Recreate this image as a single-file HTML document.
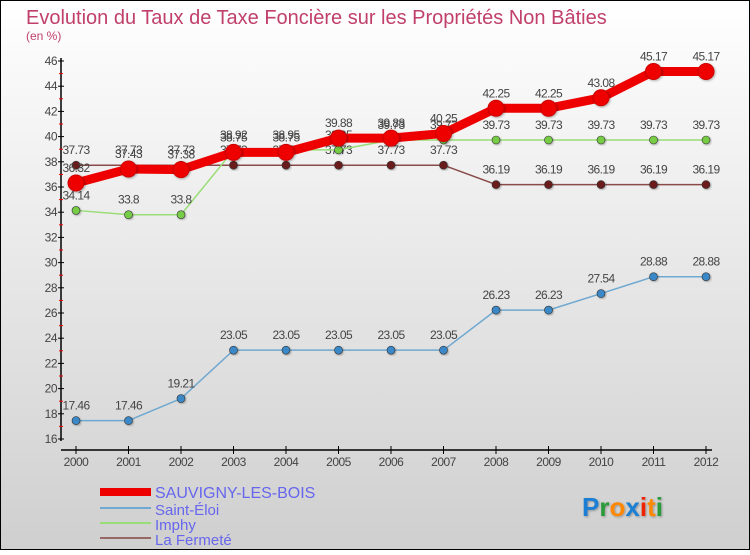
<!DOCTYPE html>
<html><head><meta charset="utf-8"><style>
html,body{margin:0;padding:0}
body{width:750px;height:550px;overflow:hidden;font-family:"Liberation Sans",sans-serif}
</style></head><body>
<svg id="chart" width="750" height="550" xmlns="http://www.w3.org/2000/svg">
<defs>
<linearGradient id="bg" x1="0" y1="0" x2="0" y2="1"><stop offset="0" stop-color="#ffffff"/><stop offset="1" stop-color="#cfcfcf"/></linearGradient>
<filter id="sh" x="-20%" y="-20%" width="140%" height="140%"><feDropShadow dx="1" dy="1" stdDeviation="1" flood-color="#000" flood-opacity="0.3"/></filter>
</defs>
<rect x="0.5" y="0.5" width="749" height="549" fill="url(#bg)" stroke="#000"/>
<text x="26" y="24" font-size="20" fill="#c0406a">Evolution du Taux de Taxe Foncière sur les Propriétés Non Bâties</text>
<text x="26" y="40" font-size="12" fill="#c0406a">(en %)</text>
<g id="axes"></g>
<g id="series"></g>
<g id="legend">
<rect x="100" y="488" width="51" height="8" fill="#ee0000"/>
<text x="155" y="498" font-size="16" fill="#6666ee">SAUVIGNY-LES-BOIS</text>
<rect x="100" y="507" width="51" height="2" fill="#6fa8d0"/>
<text x="155" y="515" font-size="15" fill="#6666ee">Saint-Éloi</text>
<rect x="100" y="522" width="51" height="2" fill="#99dd77"/>
<text x="155" y="530" font-size="15" fill="#6666ee">Imphy</text>
<rect x="100" y="537" width="51" height="2" fill="#996666"/>
<text x="155" y="545" font-size="15" fill="#6666ee">La Fermeté</text>
</g>
<g font-size="26" font-weight="bold" filter="url(#sh)">
<text x="582" y="516"><tspan fill="#1a7fd4">P</tspan><tspan fill="#2a9a3a">r</tspan><tspan fill="#ff8800">o</tspan><tspan fill="#1a7fd4">x</tspan><tspan fill="#ee2200">i</tspan><tspan fill="#ff8800">t</tspan><tspan fill="#2a9a3a">i</tspan></text>
</g>
</svg>
<script>
const years = [2000,2001,2002,2003,2004,2005,2006,2007,2008,2009,2010,2011,2012];
const yTicks = [16,18,20,22,24,26,28,30,32,34,36,38,40,42,44,46];
const sauvigny = [36.32,37.43,37.38,38.75,38.75,39.88,39.88,40.25,42.25,42.25,43.08,45.17,45.17];
const saintEloi = [17.46,17.46,19.21,23.05,23.05,23.05,23.05,23.05,26.23,26.23,27.54,28.88,28.88];
const imphy = [34.14,33.8,33.8,38.92,38.95,38.95,39.73,39.73,39.73,39.73,39.73,39.73,39.73];
const laFermete = [37.73,37.73,37.73,37.73,37.73,37.73,37.73,37.73,36.19,36.19,36.19,36.19,36.19];

const NS="http://www.w3.org/2000/svg";
const xs = i => 76 + i*52.5;
const ys = v => 61 + (46 - v)*12.6;
function mk(tag, attrs, parent){const e=document.createElementNS(NS,tag);for(const k in attrs)e.setAttribute(k,attrs[k]);parent.appendChild(e);return e;}
const axes=document.getElementById('axes'), ser=document.getElementById('series');

const ya=mk('line',{x1:61,y1:58,x2:61,y2:441,stroke:'#000','stroke-width':1.5},axes);


const xa=mk('line',{x1:61,y1:450,x2:712,y2:450,stroke:'#000','stroke-width':1.5},axes);


yTicks.forEach(v=>{
  const t=mk('line',{x1:58,y1:ys(v),x2:64,y2:ys(v),stroke:'#000'},axes);
  
  
  const l=mk('text',{x:57,y:ys(v)+4,'font-size':12,fill:'#444','text-anchor':'end','letter-spacing':'-0.5'},axes);
  l.textContent=v;
  
  
  if(v<46){const m=mk('line',{x1:59,y1:ys(v+1),x2:63,y2:ys(v+1),stroke:'#e00'},axes);
  
  }
});
years.forEach((y,i)=>{
  const t=mk('line',{x1:xs(i),y1:446,x2:xs(i),y2:454,stroke:'#000'},axes);
  
  
  const l=mk('text',{x:xs(i),y:466,'font-size':12,fill:'#444','text-anchor':'middle','letter-spacing':'-0.5'},axes);
  l.textContent=y;
  
  
});

function series(vals,name,color,w,r,dot){
  const g=mk('g',{},ser);
  
  
  const p=mk('polyline',{points:vals.map((v,i)=>xs(i)+','+ys(v)).join(' '),fill:'none',stroke:color,'stroke-width':w,'stroke-linejoin':'round'},g);
  
  
  vals.forEach((v,i)=>{
    const c=mk('circle',{cx:xs(i),cy:ys(v),r:r,fill:dot,stroke:dot==='#ee0000'?'#cc0000':'#333','stroke-width':dot==='#ee0000'?1:0.6,filter:'url(#sh)'},g);
    
    
    const l=mk('text',{x:xs(i),y:ys(v)-11,'font-size':12,fill:'#444','text-anchor':'middle','letter-spacing':'-0.6'},g);
    l.textContent=String(v);
    
    
  });
}
series(laFermete,'la-fermete','#8a4a4a',1.5,4,'#6a1a1a');
series(imphy,'imphy','#99dd77',1.5,4,'#77cc44');
series(saintEloi,'saint-eloi','#6fa8d0',1.5,4,'#3a88c8');
series(sauvigny,'sauvigny','#ee0000',9,8,'#ee0000');
</script>
</body></html>
